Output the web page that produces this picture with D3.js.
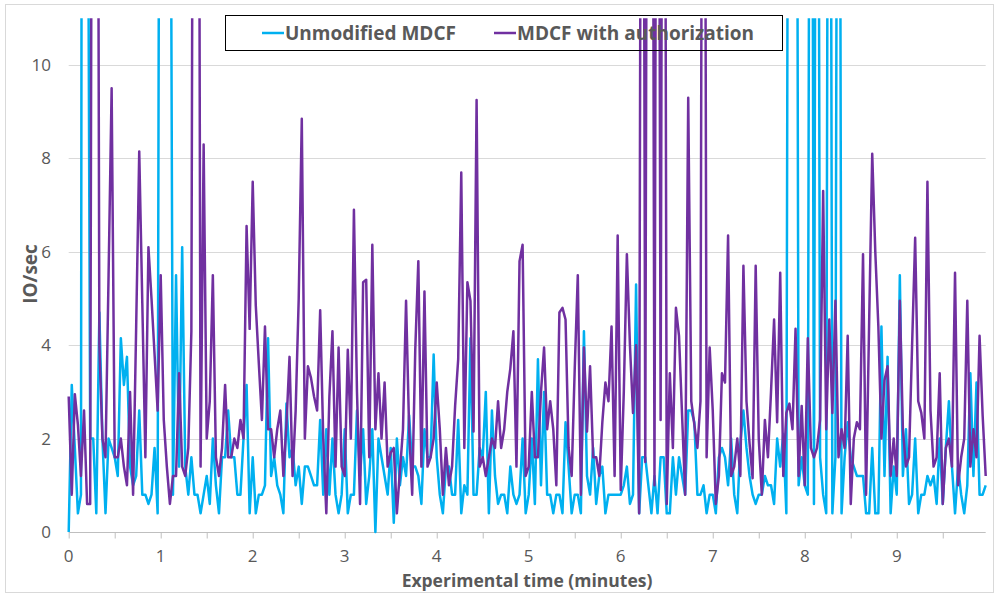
<!DOCTYPE html>
<html>
<head>
<meta charset="utf-8">
<script src="https://cdn.jsdelivr.net/npm/d3@7"></script>
<style>
  body { margin: 0; background: #fff; }
  text { font-family: "Open Sans", "Noto Sans", sans-serif; }
</style>
</head>
<body>
<div id="chart"></div>
<script>
// one sample every 2 s, 300 samples (0 .. 9.97 minutes)
// values above 11 run off the top of the plot in the original
var unmodified = [
  0, 3.15, 1.8, 0.4, 0.8, 60, 20, 2.0, 2.0, 0.4,
  4.7, 2.0, 0.4, 2.0, 1.8, 1.6, 1.2, 4.15, 3.15, 3.75,
  1.4, 1.0, 1.2, 2.6, 0.8, 0.8, 0.6, 0.8, 1.8, 0.4,
  30, 30, 30, 20, 0.8, 5.5, 1.4, 6.1, 1.4, 0.8,
  1.6, 0.8, 0.8, 0.4, 0.8, 1.2, 0.6, 2.0, 1.0, 0.4,
  1.6, 1.6, 2.6, 1.6, 1.6, 0.8, 0.8, 2.0, 3.15, 0.4,
  1.6, 0.4, 0.8, 0.8, 1.0, 4.15, 1.2, 1.6, 1.0, 0.8,
  0.4, 2.75, 1.6, 1.8, 1.0, 1.4, 0.6, 1.4, 1.4, 1.2,
  1.0, 1.0, 2.4, 0.8, 2.2, 0.8, 2.0, 0.8, 0.4, 0.8,
  2.2, 0.4, 0.8, 0.8, 2.6, 1.2, 2.2, 0.6, 1.2, 2.2,
  0.0, 2.0, 1.6, 1.2, 0.8, 1.8, 0.2, 2.0, 1.0, 1.6,
  1.2, 2.5, 1.4, 1.4, 1.2, 0.6, 2.2, 1.6, 1.6, 3.8,
  1.6, 0.8, 0.4, 1.4, 1.4, 0.8, 0.8, 2.4, 0.4, 1.0,
  0.8, 4.15, 0.8, 0.8, 1.8, 1.6, 3.0, 0.4, 2.6, 1.2,
  0.6, 0.8, 0.8, 0.4, 1.4, 0.8, 0.6, 0.8, 2.0, 0.4,
  0.8, 2.0, 0.6, 3.7, 1.0, 3.0, 0.8, 0.8, 0.4, 0.8,
  0.8, 0.4, 2.35, 1.4, 0.4, 0.8, 0.8, 0.4, 4.3, 1.2,
  0.8, 1.8, 0.6, 1.2, 1.4, 0.4, 0.8, 0.8, 0.8, 0.8,
  0.8, 1.0, 1.4, 0.6, 0.8, 5.3, 0.4, 1.6, 1.6, 1.0,
  0.4, 1.2, 0.4, 1.6, 1.6, 0.4, 0.4, 1.6, 0.8, 1.6,
  1.2, 0.8, 2.6, 2.6, 2.35, 0.8, 0.8, 1.0, 0.4, 0.8,
  0.8, 0.4, 1.6, 1.8, 1.6, 1.0, 2.0, 0.8, 0.4, 1.9,
  2.6, 1.8, 1.2, 0.8, 0.6, 0.8, 0.8, 1.2, 1.0, 1.0,
  0.6, 2.0, 1.4, 2.1, 0.4, 30, 30, 30, 1.0, 1.6,
  1.0, 0.8, 30, 0.6, 30, 1.6, 0.8, 0.4, 30, 0.4,
  1.6, 30, 0.4, 1.6, 2.35, 1.6, 1.4, 1.2, 1.2, 1.2,
  0.4, 0.4, 1.8, 0.4, 0.4, 4.4, 1.2, 3.75, 0.4, 1.4,
  0.8, 5.5, 1.2, 2.2, 0.6, 0.8, 2.0, 0.4, 0.8, 0.8,
  1.2, 1.0, 1.2, 0.6, 2.0, 0.6, 1.8, 2.8, 1.4, 0.4,
  1.4, 0.8, 0.4, 1.0, 3.4, 1.2, 3.2, 0.8, 0.8, 1.0
];

var withAuth = [
  2.9, 0.8, 2.95, 2.3, 1.2, 2.6, 0.6, 0.6, 30, 30,
  4.0, 2.0, 1.6, 5.5, 9.5, 1.6, 1.6, 2.0, 1.4, 1.0,
  3.0, 0.8, 4.4, 8.15, 4.9, 1.6, 6.1, 5.0, 3.8, 2.6,
  5.5, 2.4, 1.4, 0.6, 1.2, 1.2, 3.4, 1.4, 1.2, 1.8,
  4.3, 30, 30, 1.4, 8.3, 2.0, 2.8, 5.5, 1.6, 1.2,
  1.8, 3.15, 1.6, 1.6, 2.0, 1.8, 2.4, 2.0, 6.55, 4.35,
  7.5, 4.85, 3.6, 2.4, 4.4, 2.2, 2.2, 1.6, 2.2, 2.6,
  1.2, 2.3, 3.75, 1.2, 2.6, 5.0, 8.85, 2.0, 3.55, 3.3,
  2.9, 2.6, 4.75, 2.0, 0.4, 2.9, 4.3, 1.4, 3.95, 1.4,
  1.2, 3.9, 2.0, 6.9, 3.0, 0.6, 5.35, 5.4, 1.6, 6.15,
  2.2, 3.4, 2.0, 3.2, 1.4, 1.7, 1.8, 0.4, 1.3, 2.2,
  4.95, 2.2, 0.8, 3.9, 5.8, 1.4, 5.15, 1.4, 1.6, 2.0,
  3.2, 2.2, 0.8, 1.8, 1.0, 1.4, 2.7, 3.7, 7.7, 1.8,
  5.35, 4.95, 2.15, 9.25, 1.4, 1.6, 1.2, 1.6, 2.0, 1.8,
  2.8, 1.8, 2.2, 3.0, 3.5, 4.3, 1.4, 5.8, 6.15, 1.2,
  1.4, 3.0, 1.6, 1.6, 3.0, 3.95, 2.2, 2.8, 2.2, 1.0,
  4.7, 4.8, 4.55, 1.8, 1.2, 3.5, 5.5, 0.8, 3.95, 2.15,
  3.55, 1.6, 1.6, 1.2, 2.35, 3.2, 2.8, 4.4, 1.2, 6.35,
  0.9, 3.0, 5.95, 4.0, 2.55, 4.0, 0.4, 30, 1.5, 30,
  30, 1.0, 30, 2.4, 30, 0.6, 3.4, 1.8, 4.8, 4.2,
  2.5, 0.8, 9.3, 2.8, 2.3, 1.8, 2.8, 30, 1.6, 3.95,
  2.6, 0.6, 1.2, 3.4, 3.2, 6.35, 1.2, 1.4, 2.0, 1.2,
  5.7, 2.8, 1.9, 1.15, 5.7, 2.0, 0.8, 2.4, 1.6, 3.0,
  4.55, 2.35, 5.55, 1.2, 2.55, 2.75, 2.2, 4.35, 1.2, 2.7,
  1.0, 4.15, 1.8, 1.6, 1.8, 2.4, 7.3, 2.2, 4.55, 2.55,
  4.95, 1.6, 2.2, 1.8, 4.2, 0.6, 2.0, 2.35, 2.2, 5.95,
  0.8, 4.5, 8.1, 6.0, 4.4, 2.0, 3.25, 3.55, 1.2, 2.0,
  1.2, 4.95, 2.2, 1.4, 1.6, 4.0, 6.3, 2.8, 2.55, 2.0,
  7.5, 2.6, 1.4, 1.6, 3.4, 0.6, 1.8, 2.0, 1.4, 5.55,
  1.0, 1.6, 2.0, 4.95, 1.4, 2.2, 1.6, 4.2, 2.5, 1.2
];

var seriesNames = ["Unmodified MDCF", "MDCF with authorization"];
var seriesColors = ["#00b0f0", "#7030a0"];

var yTicks = [0, 2, 4, 6, 8, 10];
var xMinorTicks = [0, 15, 30, 45, 60, 75, 90, 105, 120, 135, 150, 165, 180, 195, 210, 225, 240, 255, 270, 285];
var xLabelTicks = [0, 30, 60, 90, 120, 150, 180, 210, 240, 270];
var xLabels = ["0", "1", "2", "3", "4", "5", "6", "7", "8", "9"];

var width = 995, height = 597;
var plotLeft = 68.7, plotRight = 985.7, plotTop = 18.3, plotBottom = 532;

var svg = d3.select("#chart")
    .append("svg")
    .attr("width", width)
    .attr("height", height);

// chart area border
svg.append("rect")
    .attr("x", 5.5).attr("y", 4.5)
    .attr("width", 988).attr("height", 588)
    .attr("fill", "white")
    .attr("stroke", "#d9d9d9")
    .attr("stroke-width", 1);

var x = d3.scaleLinear().domain([0, unmodified.length - 1]).range([plotLeft, plotRight]);
var y = d3.scaleLinear().domain([0, 11]).range([plotBottom, plotTop]);

// gridlines
svg.append("g")
    .selectAll("line")
    .data(yTicks.filter(d => d > 0))
    .enter()
    .append("line")
    .attr("x1", plotLeft).attr("x2", plotRight)
    .attr("y1", d => Math.round(y(d)) + 0.5)
    .attr("y2", d => Math.round(y(d)) + 0.5)
    .attr("stroke", "#d9d9d9")
    .attr("stroke-width", 1);

// x axis with half-minute ticks, labels every minute
var xAxis = svg.append("g")
    .attr("transform", "translate(0," + (Math.round(plotBottom) + 0.5) + ")")
    .call(d3.axisBottom(x).tickValues(xMinorTicks).tickSize(6).tickFormat(""));
xAxis.select(".domain").attr("stroke", "#bfbfbf").attr("d", "M" + plotLeft + ",0H" + plotRight);
xAxis.selectAll(".tick line").attr("stroke", "#bfbfbf");

svg.append("g")
    .selectAll("text")
    .data(xLabelTicks)
    .enter()
    .append("text")
    .attr("x", d => x(d))
    .attr("y", 562)
    .attr("text-anchor", "middle")
    .attr("font-size", "17px")
    .attr("fill", "#595959")
    .text((d, i) => xLabels[i]);

// y axis labels (no axis line)
svg.append("g")
    .selectAll("text")
    .data(yTicks)
    .enter()
    .append("text")
    .attr("x", 51)
    .attr("y", d => y(d) + 6)
    .attr("text-anchor", "end")
    .attr("font-size", "17px")
    .attr("fill", "#595959")
    .text(d => d);

// axis titles
svg.append("text")
    .attr("x", 527)
    .attr("y", 587)
    .attr("text-anchor", "middle")
    .attr("font-size", "17.5px")
    .attr("font-weight", "bold")
    .attr("fill", "#595959")
    .text("Experimental time (minutes)");

svg.append("text")
    .attr("transform", "translate(37,274) rotate(-90)")
    .attr("text-anchor", "middle")
    .attr("font-size", "19px")
    .attr("font-weight", "bold")
    .attr("fill", "#595959")
    .text("IO/sec");

// plot clip
svg.append("clipPath")
    .attr("id", "plotClip")
    .append("rect")
    .attr("x", plotLeft - 2).attr("y", plotTop)
    .attr("width", plotRight - plotLeft + 4).attr("height", plotBottom - plotTop + 3);

var line = d3.line()
    .x((d, i) => x(i))
    .y(d => y(d));

var plot = svg.append("g").attr("clip-path", "url(#plotClip)");

[unmodified, withAuth].forEach(function(values, s) {
    plot.append("path")
        .datum(values)
        .attr("fill", "none")
        .attr("stroke", seriesColors[s])
        .attr("stroke-width", 2.5)
        .attr("stroke-linejoin", "round")
        .attr("d", line);
});

// legend
var legend = svg.append("g");
legend.append("rect")
    .attr("x", 225.5).attr("y", 15.5)
    .attr("width", 557).attr("height", 35)
    .attr("fill", "none")
    .attr("stroke", "#000")
    .attr("stroke-width", 1);

var legendX = [262, 494];
seriesNames.forEach(function(name, s) {
    legend.append("line")
        .attr("x1", legendX[s]).attr("x2", legendX[s] + 22)
        .attr("y1", 33).attr("y2", 33)
        .attr("stroke", seriesColors[s])
        .attr("stroke-width", 2.5);
    legend.append("text")
        .attr("x", legendX[s] + 23)
        .attr("y", 39.5)
        .attr("font-size", "19px")
        .attr("font-weight", "bold")
        .attr("fill", "#595959")
        .text(name);
});
</script>
</body>
</html>
